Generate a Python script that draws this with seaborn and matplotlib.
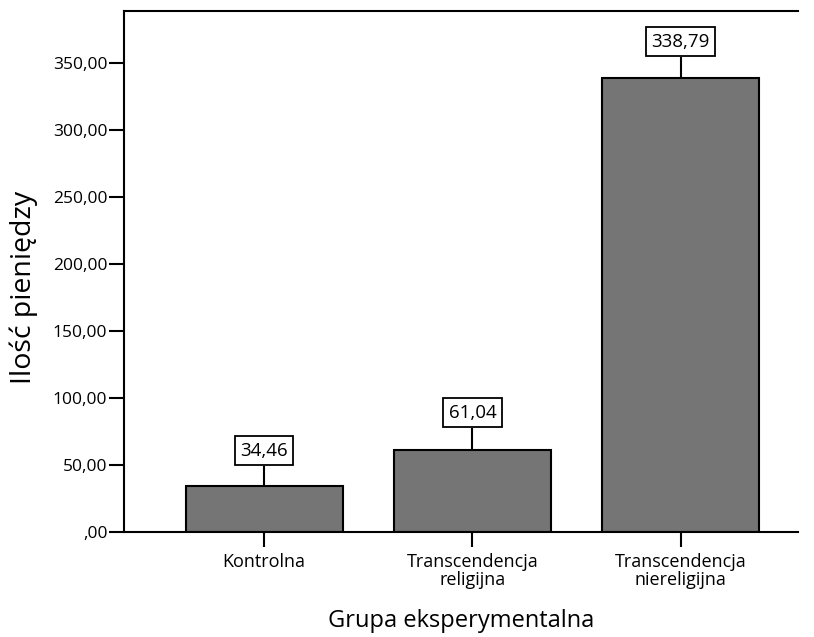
#!/usr/bin/env python3
"""Bar chart: amount of money by experimental group (SPSS-style)."""

import matplotlib
matplotlib.use('Agg')
import matplotlib.pyplot as plt
import numpy as np
import pandas as pd
import seaborn as sns

groups = ['Kontrolna', 'Transcendencja\nreligijna', 'Transcendencja\nniereligijna']
means = [34.46, 61.04, 338.79]
err_top = [49.6, 77.9, 354.4]
y_ticks = [0, 50, 100, 150, 200, 250, 300, 350]

sns.set_style('white')
plt.rcParams['font.family'] = ['Open Sans', 'DejaVu Sans']
plt.rcParams['text.color'] = 'black'
plt.rcParams['axes.labelcolor'] = 'black'
plt.rcParams['xtick.color'] = 'black'
plt.rcParams['ytick.color'] = 'black'

df = pd.DataFrame({'group': groups, 'mean': means})

fig = plt.figure(figsize=(8.14, 6.37), dpi=100)
ax = fig.add_axes([0.1523, 0.1644, 0.828, 0.818])

sns.barplot(data=df, x='group', y='mean', color='#757575', saturation=1,
            errorbar=None, width=0.755, edgecolor='black', linewidth=1.5, ax=ax)

# upper-only error bars
x = np.arange(len(groups))
upper = np.array(err_top) - np.array(means)
ax.errorbar(x, means, yerr=[np.zeros_like(upper), upper], fmt='none',
            ecolor='black', elinewidth=1.5, capsize=0, zorder=3)

for xi, top, m in zip(x, err_top, means):
    ax.annotate(f'{m:.2f}'.replace('.', ','), xy=(xi, top), xytext=(0, 4.5),
                textcoords='offset points', ha='center', va='bottom', fontsize=13.5,
                bbox=dict(boxstyle='square,pad=0.28', facecolor='white',
                          edgecolor='black', linewidth=1.3), zorder=4)

ax.set_ylim(0, 388.5)
ax.set_xlim(-0.673, 2.5625)
ax.set_yticks(y_ticks)
ax.set_yticklabels([f'{v:.2f}'.replace('.', ',') if v else ',00' for v in y_ticks])
ax.set_xticks(x)
ax.set_xticklabels(groups, linespacing=1.0)

for side in ['left', 'top', 'bottom']:
    ax.spines[side].set_visible(True)
    ax.spines[side].set_color('black')
    ax.spines[side].set_linewidth(1.5)
ax.spines['right'].set_visible(False)

ax.tick_params(axis='both', direction='out', length=11, width=1.5, color='black',
               bottom=True, left=True)
ax.tick_params(axis='y', labelsize=12.5, pad=1)
ax.tick_params(axis='x', labelsize=13, pad=4)

ax.set_xlabel('Grupa eksperymentalna', fontsize=17, labelpad=14)
ax.set_ylabel('Ilość pieniędzy', fontsize=20.5)
ax.yaxis.set_label_coords(-0.128, 0.47)

fig.savefig('out.png', dpi=100)
